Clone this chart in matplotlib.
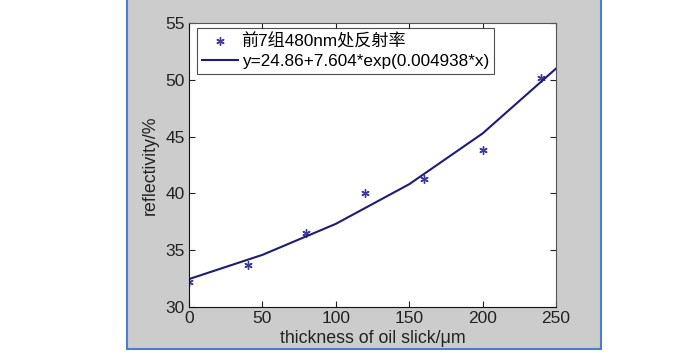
import matplotlib
matplotlib.use("Agg")
import matplotlib.pyplot as plt
from matplotlib.patches import Rectangle

# measured points (thickness in um, reflectivity in %)
thickness = [0, 40, 80, 120, 160, 200, 240]
reflectivity = [32.2, 33.7, 36.5, 40.0, 41.3, 43.8, 50.2]

# fitted curve sampled every 50 um
fit_x = [0, 50, 100, 150, 200, 250]
fit_y = [32.46, 34.59, 37.32, 40.81, 45.28, 50.99]

point_label = "前7组480nm处反射率"
fit_label = "y=24.86+7.604*exp(0.004938*x)"

plt.rcParams["font.family"] = ["Liberation Sans", "Noto Sans CJK SC", "DejaVu Sans"]

fig = plt.figure(figsize=(6.97, 3.6), dpi=100)
fig.patch.set_facecolor("white")

# grey matlab figure panel
panel = Rectangle((0.1822, 0.0306), 0.6801, 1.0, transform=fig.transFigure,
                  facecolor="#cccccc", edgecolor="#4a7fd0", linewidth=1.5, zorder=-10)
fig.patches.append(panel)

ax = fig.add_axes([0.2712, 0.1472, 0.5265, 0.7889])
ax.set_zorder(5)
ax.set_facecolor("white")

ax.plot(thickness, reflectivity, linestyle="none", marker=(6, 2, 0), markersize=6,
        markeredgewidth=1.0, color="#3a3aa0", label=point_label)
ax.plot(fit_x, fit_y, color="#1c1c7a", linewidth=1.5, label=fit_label)

ax.set_xlim(0, 250)
ax.set_ylim(30, 55)
ax.set_xticks([0, 50, 100, 150, 200, 250])
ax.set_yticks([30, 35, 40, 45, 50, 55])
ax.tick_params(direction="in", length=4, top=True, right=True, labelsize=12.5,
               colors="#222222", pad=3)
for s in ax.spines.values():
    s.set_color("#555555")
    s.set_linewidth(0.8)
ax.spines["bottom"].set_color("#111111")
ax.spines["left"].set_color("#111111")

ax.set_xlabel("thickness of oil slick/\u03bcm", fontsize=12.8, labelpad=3, color="#222222")
ax.set_ylabel("reflectivity/%", fontsize=12.8, labelpad=5, color="#222222")

leg = ax.legend(loc="upper left", bbox_to_anchor=(0.022, 0.982), fontsize=12.3,
                frameon=True, fancybox=False, borderaxespad=0, handlelength=2.1,
                handletextpad=0.2, borderpad=0.3, labelspacing=0.25)
leg.get_frame().set_edgecolor("#222222")
leg.get_frame().set_linewidth(0.8)

fig.savefig("out.png", dpi=100, facecolor="white")
